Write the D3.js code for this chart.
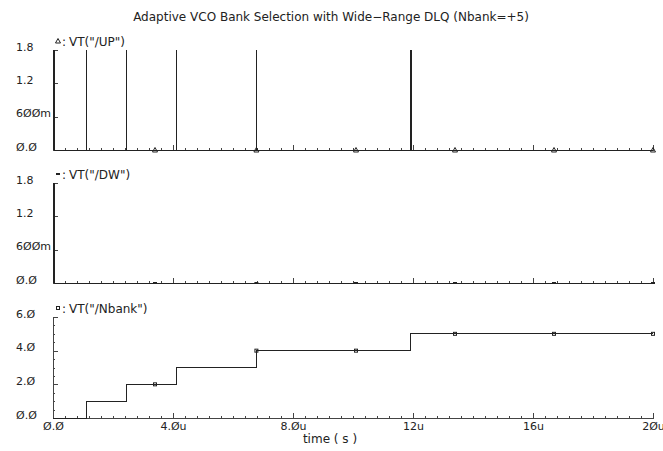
<!DOCTYPE html>
<html>
<head>
<meta charset="utf-8">
<script src="https://cdn.jsdelivr.net/npm/d3@7"></script>
<style>
  body { margin: 0; background: #fff; }
  text { font-family: "DejaVu Sans", sans-serif; fill: #222; }
  .trace, .tick line, .domain { shape-rendering: crispEdges; }
</style>
</head>
<body>
<div id="chart"></div>
<script>
/************************************ Data *******************************/
var chartTitle = "Adaptive VCO Bank Selection with Wide\u2212Range DLQ (Nbank=+5)";
var timeTicks = [0, 4, 8, 12, 16, 20];
var timeTickLabels = ["Ø.Ø", "4.Øu", "8.Øu", "12u", "16u", "2Øu"];

var upPulseStart = [0, 1.11, 2.44, 4.10, 6.77, 11.93];   // us
var upPulseWidth = [0.04, 0.005, 0.02, 0.02, 0.005, 0.005];
var dwPulseStart = [0];
var dwPulseWidth = [0.05];
var pulseHigh = 1.8;

var nbankStepTimes = [0, 1.11, 2.44, 4.10, 6.77, 11.93];
var nbankLevels = [0, 1, 2, 3, 4, 5];

var markerTimes = [3.4, 6.78, 10.1, 13.4, 16.7, 20];

var voltTicks = [0, 0.6, 1.2, 1.8];
var voltTickLabels = ["Ø.Ø", "6ØØm", "1.2", "1.8"];
var nbankTicks = [0, 2, 4, 6];
var nbankTickLabels = ["Ø.Ø", "2.Ø", "4.Ø", "6.Ø"];

/************************************ Layout *******************************/
var W = 663, H = 451;
var x = d3.scaleLinear().domain([0, 20]).range([53, 653]);

var svg = d3.select("#chart").append("svg")
	.attr("width", W).attr("height", H);
svg.append("rect").attr("width", W).attr("height", H).attr("fill", "#fff");

svg.append("text")
	.attr("x", 331).attr("y", 21)
	.attr("text-anchor", "middle")
	.style("font-size", "12px")
	.text(chartTitle);

// build waveform points from pulse lists
function pulsePoints(starts, widths) {
	var pts = [];
	starts.forEach(function(t, i) {
		pts.push([t, 0], [t, pulseHigh], [t + widths[i], pulseHigh], [t + widths[i], 0]);
	});
	pts.push([20, 0]);
	return pts;
}
function stepPoints(times, levels) {
	var pts = [];
	times.forEach(function(t, i) {
		if (i > 0) pts.push([t, levels[i - 1]]);
		pts.push([t, levels[i]]);
	});
	pts.push([20, levels[levels.length - 1]]);
	return pts;
}
function valueAt(times, levels, t) {
	var v = levels[0];
	times.forEach(function(s, i) { if (t >= s) v = levels[i]; });
	return v;
}

var panels = [
	{ top: 50, bottom: 150, domain: [0, 1.8], ticks: voltTicks, labels: voltTickLabels, minor: 0.15,
	  name: 'VT("/UP")', marker: "tri", pts: pulsePoints(upPulseStart, upPulseWidth),
	  val: function() { return 0; } },
	{ top: 183, bottom: 283, domain: [0, 1.8], ticks: voltTicks, labels: voltTickLabels, minor: 0.15,
	  name: 'VT("/DW")', marker: "dash", pts: pulsePoints(dwPulseStart, dwPulseWidth),
	  val: function() { return 0; } },
	{ top: 317, bottom: 418, domain: [0, 6], ticks: nbankTicks, labels: nbankTickLabels, minor: 0.5,
	  name: 'VT("/Nbank")', marker: "sq", pts: stepPoints(nbankStepTimes, nbankLevels),
	  val: function(t) { return valueAt(nbankStepTimes, nbankLevels, t); }, xlabels: true }
];

function drawMarker(g, kind, cx, cy) {
	if (kind == "tri") {
		g.append("path")
			.attr("d", "M" + (cx - 2.5) + "," + (cy + 2) + "L" + cx + "," + (cy - 2.5) + "L" + (cx + 2.5) + "," + (cy + 2) + "Z")
			.attr("fill", "none").attr("stroke", "#222").attr("stroke-width", 1);
	} else if (kind == "dash") {
		g.append("rect").attr("x", cx - 2).attr("y", cy - 1).attr("width", 4).attr("height", 2)
			.attr("fill", "#222");
	} else {
		g.append("rect").attr("x", cx - 1.5).attr("y", cy - 1.5).attr("width", 3).attr("height", 3)
			.attr("fill", "none").attr("stroke", "#222").attr("stroke-width", 1);
	}
}

panels.forEach(function(p) {
	var y = d3.scaleLinear().domain(p.domain).range([p.bottom, p.top]);
	var g = svg.append("g");

	// minor ticks
	g.append("g").attr("transform", "translate(0," + p.bottom + ")")
		.call(d3.axisBottom(x).tickValues(d3.range(0, 20.001, 0.4)).tickSizeInner(-2).tickSizeOuter(0).tickFormat(""))
		.call(function(a) { a.select(".domain").remove(); a.selectAll("line").attr("stroke", "#444"); });
	g.append("g").attr("transform", "translate(53,0)")
		.call(d3.axisLeft(y).tickValues(d3.range(p.domain[0], p.domain[1] + 1e-6, p.minor)).tickSizeInner(-2).tickSizeOuter(0).tickFormat(""))
		.call(function(a) { a.select(".domain").remove(); a.selectAll("line").attr("stroke", "#444"); });

	// major axes
	var xa = g.append("g").attr("transform", "translate(0," + p.bottom + ")")
		.call(d3.axisBottom(x).tickValues(timeTicks).tickSizeInner(-5).tickSizeOuter(0)
			.tickFormat(function(d, i) { return p.xlabels ? timeTickLabels[i] : ""; }));
	xa.select(".domain").attr("stroke", "#444");
	xa.selectAll("line").attr("stroke", "#444");
	xa.selectAll("text").attr("y", 12).attr("dy", 0).style("font-size", "11px")
		.style("font-family", '"DejaVu Sans", sans-serif').attr("fill", "#222");

	var ya = g.append("g").attr("transform", "translate(53,0)")
		.call(d3.axisLeft(y).tickValues(p.ticks).tickSizeInner(-5).tickSizeOuter(0)
			.tickFormat(function(d, i) { return p.labels[i]; }));
	ya.select(".domain").attr("stroke", "#444");
	ya.selectAll("line").attr("stroke", "#444");
	ya.selectAll("text").attr("x", -37).attr("dy", 0).attr("text-anchor", "start")
		.style("font-size", "11px").style("font-family", '"DejaVu Sans", sans-serif').attr("fill", "#222");

	// trace
	g.append("path").datum(p.pts).attr("class", "trace")
		.attr("fill", "none").attr("stroke", "#222").attr("stroke-width", 1)
		.attr("d", d3.line().x(function(d) { return x(d[0]); }).y(function(d) { return y(d[1]); }));

	markerTimes.forEach(function(t) { drawMarker(g, p.marker, x(t), y(p.val(t))); });

	// legend
	drawMarker(g, p.marker, 58, p.top - 9);
	g.append("text").attr("x", 62).attr("y", p.top - 4).style("font-size", "12px").text(":");
	g.append("text").attr("x", 69).attr("y", p.top - 4).style("font-size", "12px").text(p.name);
});

svg.append("text")
	.attr("x", 330).attr("y", 443)
	.attr("text-anchor", "middle")
	.style("font-size", "12px")
	.text("time ( s )");
</script>
</body>
</html>
